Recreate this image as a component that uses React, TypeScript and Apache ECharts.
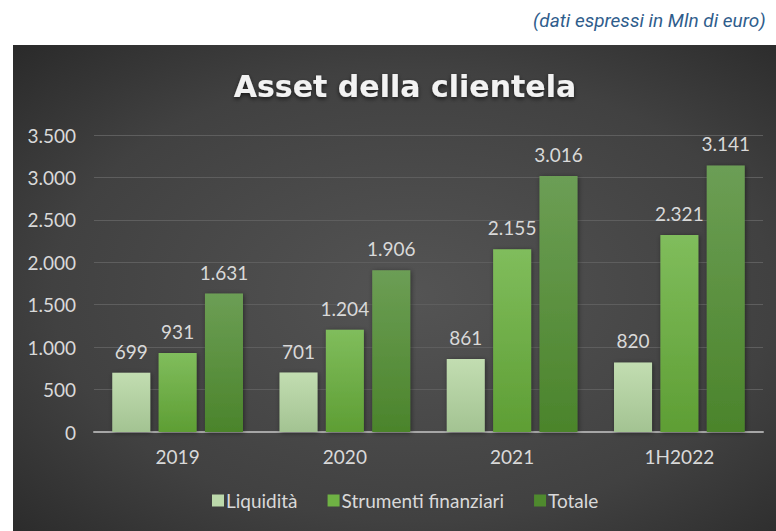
import React, { useEffect, useRef } from "react";
import * as echarts from "echarts";

const categories = ["2019", "2020", "2021", "1H2022"];
const liquidita = [699, 701, 861, 820];
const strumenti = [931, 1204, 2155, 2321];
const totale = [1631, 1906, 3016, 3141];
const seriesNames = ["Liquidità", "Strumenti finanziari", "Totale"];

const fmtNum = (v: number) => {
  const s = String(Math.round(v));
  return s.replace(/\B(?=(\d{3})+(?!\d))/g, ".");
};

const FONT = "Lato, 'Open Sans', sans-serif";

export default function App() {
  const ref = useRef<HTMLDivElement>(null);
  useEffect(() => {
    const chart = echarts.init(ref.current!, null, { renderer: "svg" });
    const grad = (top: string, bottom: string) =>
      new echarts.graphic.LinearGradient(0, 0, 0, 1, [
        { offset: 0, color: top },
        { offset: 1, color: bottom },
      ]);
    const colors = [
      { top: "#c2ddb1", bottom: "#a3c392", legend: "#bcd9ab" },
      { top: "#80bd5c", bottom: "#5e9e34", legend: "#6fb244" },
      { top: "#6c9e55", bottom: "#4b842b", legend: "#4f8a2e" },
    ];
    const values = [liquidita, strumenti, totale];
    chart.setOption({
      animation: false,
      backgroundColor: "#ffffff",
      graphic: [
        {
          type: "rect",
          z: -10,
          silent: true,
          shape: { x: 13, y: 45, width: 800, height: 500 },
          style: {
            fill: new echarts.graphic.RadialGradient(0.5, 0.5, 0.75, [
              { offset: 0, color: "#545454" },
              { offset: 0.6, color: "#414141" },
              { offset: 1, color: "#262626" },
            ]),
          },
        },
        {
          type: "text",
          x: 533,
          y: 11,
          style: {
            text: "(dati espressi in Mln di euro)",
            fill: "#2f5d8c",
            font: "italic 19px Roboto, sans-serif",
          },
        },
      ],
      title: {
        text: "Asset della clientela",
        left: "400",
        top: 66,
        textAlign: "center",
        textStyle: {
          color: "#f2f2f2",
          fontFamily: "'DejaVu Sans', 'Open Sans', sans-serif",
          fontWeight: "bold",
          fontSize: 30,
          textShadowColor: "rgba(0,0,0,0.6)",
          textShadowBlur: 4,
          textShadowOffsetY: 2,
        },
      },
      legend: {
        bottom: 16,
        left: 207,
        itemWidth: 12,
        itemHeight: 12,
        itemGap: 30,
        icon: "rect",
        textStyle: { color: "#d9d9d9", fontFamily: FONT, fontSize: 19, padding: [0, 0, 0, -3] },
        data: seriesNames.map((n, i) => ({ name: n, itemStyle: { color: colors[i].legend } })),
      },
      grid: { left: 94, right: 13, top: 135, bottom: 99, containLabel: false },
      xAxis: {
        type: "category",
        data: categories,
        axisTick: { show: false },
        axisLine: { lineStyle: { color: "#a6a6a6", width: 2 } },
        axisLabel: { color: "#d9d9d9", fontFamily: FONT, fontSize: 19, margin: 15 },
      },
      yAxis: {
        type: "value",
        min: 0,
        max: 3500,
        interval: 500,
        axisLabel: {
          color: "#d9d9d9",
          fontFamily: FONT,
          fontSize: 19,
          margin: 18,
          formatter: (v: number) => fmtNum(v),
        },
        axisLine: { show: false },
        axisTick: { show: false },
        splitLine: { lineStyle: { color: "#5e5e5e", width: 1 } },
      },
      series: values.map((d, i) => ({
        name: seriesNames[i],
        type: "bar",
        data: d,
        barWidth: 38,
        barGap: "22%",
        itemStyle: {
          color: grad(colors[i].top, colors[i].bottom),
          shadowColor: "rgba(0,0,0,0.45)",
          shadowBlur: 5,
          shadowOffsetX: 1,
          shadowOffsetY: 1,
        },
        label: {
          show: true,
          position: "top",
          distance: 12,
          color: "#d9d9d9",
          fontFamily: FONT,
          fontSize: 19,
          formatter: (p: any) => fmtNum(p.value),
        },
      })),
    });
    return () => chart.dispose();
  }, []);
  return (
    <div
      ref={ref}
      style={{ position: "fixed", left: 0, top: 0, width: 776, height: 531 }}
    />
  );
}
